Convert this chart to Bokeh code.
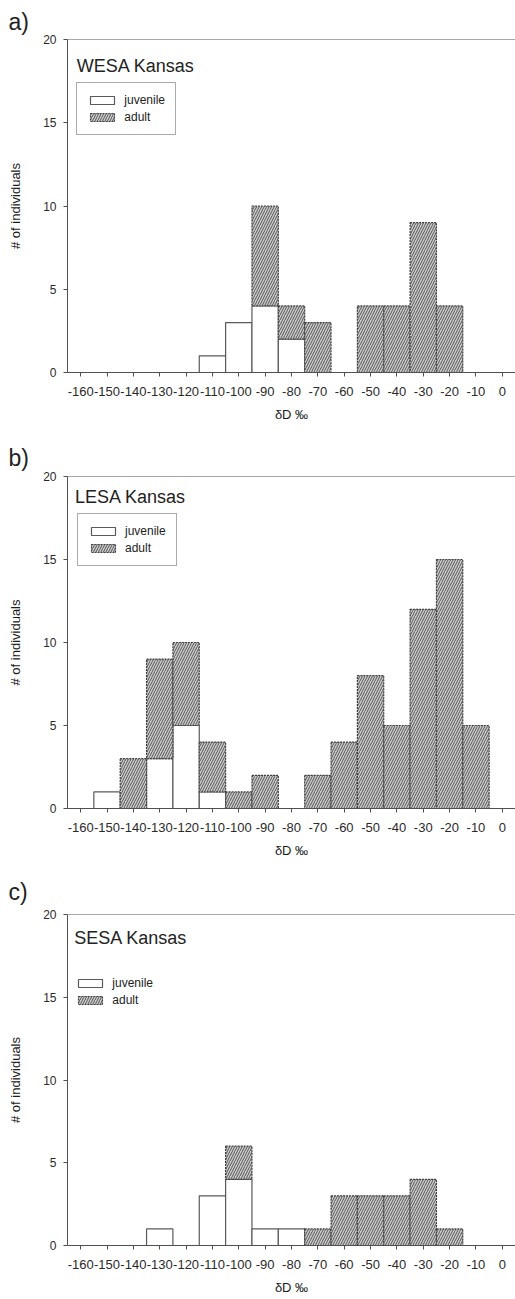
from bokeh.plotting import figure
from bokeh.models import Range1d, FixedTicker, Span, Label, Legend, LegendItem, ColumnDataSource
from bokeh.layouts import column
from bokeh.embed import file_html
from bokeh.resources import INLINE

FONT = "Liberation Sans"

# ---------------- data ----------------
bin_width = 10
x_ticks = list(range(-160, 1, 10))
y_ticks = [0, 5, 10, 15, 20]
series_names = ["juvenile", "adult"]
panel_letters = ["a)", "b)", "c)"]
panel_titles = ["WESA Kansas", "LESA Kansas", "SESA Kansas"]
x_label = "δD ‰"
y_label = "# of individuals"

wesa_bins = [-110, -100, -90, -80, -70, -50, -40, -30, -20]
wesa_juvenile = [1, 3, 4, 2, 0, 0, 0, 0, 0]
wesa_adult = [0, 0, 6, 2, 3, 4, 4, 9, 4]

lesa_bins = [-150, -140, -130, -120, -110, -100, -90, -70, -60, -50, -40, -30, -20, -10]
lesa_juvenile = [1, 0, 3, 5, 1, 0, 0, 0, 0, 0, 0, 0, 0, 0]
lesa_adult = [0, 3, 6, 5, 3, 1, 2, 2, 4, 8, 5, 12, 15, 5]

sesa_bins = [-130, -110, -100, -90, -80, -70, -60, -50, -40, -30, -20]
sesa_juvenile = [1, 3, 4, 1, 1, 0, 0, 0, 0, 0, 0]
sesa_adult = [0, 0, 2, 0, 0, 1, 3, 3, 3, 4, 1]

# ---------------- layout ----------------
X0, X1 = -165, 5
Y0, Y1 = 0, 20
FIG_W = 515
BORDER_L = 67
FRAME_H = 333
FRAME_W = FIG_W - BORDER_L
PX_X = FRAME_W / (X1 - X0)
PX_Y = FRAME_H / (Y1 - Y0)

AXIS_C = "#505050"
TEXT_C = "#2a2a2a"

panels = [
    dict(bins=wesa_bins, juv=wesa_juvenile, adu=wesa_adult, height=436, top=39,
         letter_up=17.5, title_down=26, title_left=9.3, legend_top=44, legend_left=9.3, legend_border=True),
    dict(bins=lesa_bins, juv=lesa_juvenile, adu=lesa_adult, height=430, top=39,
         letter_up=19, title_down=20.5, title_left=7.5, legend_top=39, legend_left=10, legend_border=True),
    dict(bins=sesa_bins, juv=sesa_juvenile, adu=sesa_adult, height=433, top=46,
         letter_up=27, title_down=24, title_left=6.8, legend_top=43, legend_left=8.3, legend_border=False),
]


def px_to_x(dx):
    return X0 + dx / PX_X


def px_to_y_from_top(dy):
    return Y1 - dy / PX_Y


figs = []
for i, cfg in enumerate(panels):
    bottom_border = cfg["height"] - cfg["top"] - FRAME_H
    p = figure(width=FIG_W, height=cfg["height"], output_backend="svg", toolbar_location=None,
               x_range=Range1d(X0, X1), y_range=Range1d(Y0, Y1),
               min_border_left=BORDER_L, min_border_right=0,
               min_border_top=cfg["top"], min_border_bottom=bottom_border)
    p.outline_line_color = None
    p.grid.visible = False
    p.background_fill_color = "white"
    p.border_fill_color = "white"

    # panel letter as title, pushed to the left edge of the figure
    p.title.text = panel_letters[i]
    p.title.align = "left"
    p.title.offset = -BORDER_L + 8
    p.title.standoff = cfg["letter_up"] - 7.5
    p.title.text_font = FONT
    p.title.text_font_size = "23px"
    p.title.text_font_style = "normal"
    p.title.text_color = "#222222"

    bins = cfg["bins"]
    juv = cfg["juv"]
    adu = cfg["adu"]
    jx = [b for b, j in zip(bins, juv) if j > 0]
    jt = [j for j in juv if j > 0]
    ax = [b for b, j, a in zip(bins, juv, adu) if a > 0]
    ab = [j for j, a in zip(juv, adu) if a > 0]
    at = [j + a for j, a in zip(juv, adu) if a > 0]

    src_j = ColumnDataSource(dict(x=jx, top=jt))
    src_a = ColumnDataSource(dict(x=ax, bottom=ab, top=at))

    rj = p.vbar(x="x", top="top", bottom=0, width=bin_width, source=src_j,
                fill_color="white", line_color="#5a5a5a", line_width=1.2)
    ra = p.vbar(x="x", top="top", bottom="bottom", width=bin_width, source=src_a,
                fill_color="#cccccc", line_color="#404040", line_width=1.2, line_dash="2 1",
                hatch_pattern="/", hatch_color="#555555", hatch_scale=5, hatch_weight=1)

    # top frame line
    p.add_layout(Span(location=Y1, dimension="width", line_color=AXIS_C, line_width=1))

    # axes
    for ax_ in (p.xaxis, p.yaxis):
        ax_.axis_line_color = AXIS_C
        ax_.major_tick_line_color = AXIS_C
        ax_.minor_tick_line_color = None
        ax_.major_tick_in = 0
        ax_.major_tick_out = 4
        ax_.major_label_text_font = FONT
        ax_.major_label_text_color = TEXT_C
        ax_.axis_label_text_font = FONT
        ax_.axis_label_text_font_size = "13px"
        ax_.axis_label_text_font_style = "normal"
        ax_.axis_label_text_color = "#1a1a1a"
    p.xaxis.major_label_text_font_size = "13px"
    p.yaxis.major_label_text_font_size = "12px"
    p.xaxis.ticker = FixedTicker(ticks=x_ticks)
    p.yaxis.ticker = FixedTicker(ticks=y_ticks)
    p.xaxis.major_label_overrides = {t: str(t) for t in x_ticks}
    p.yaxis.major_label_overrides = {t: str(t) for t in y_ticks}
    p.xaxis.axis_label = x_label
    p.yaxis.axis_label = y_label
    p.xaxis.major_label_standoff = 10
    p.xaxis.axis_label_standoff = 8
    p.yaxis.major_label_standoff = 7
    p.yaxis.axis_label_standoff = 17

    # panel title
    p.add_layout(Label(x=px_to_x(cfg["title_left"]), y=px_to_y_from_top(cfg["title_down"]),
                       text=panel_titles[i], text_font=FONT, text_font_size="18px",
                       text_color="#222222", text_align="left", text_baseline="middle"))

    legend = Legend(items=[LegendItem(label=series_names[0], renderers=[rj]),
                           LegendItem(label=series_names[1], renderers=[ra])],
                    location=(cfg["legend_left"], FRAME_H - cfg["legend_top"] - 52),
                    glyph_width=30, glyph_height=10, label_height=14, label_width=20,
                    label_text_font=FONT, label_text_font_size="12px", label_text_color="#222222",
                    label_standoff=7, padding=10, spacing=3, margin=0,
                    border_line_color=("#555555" if cfg["legend_border"] else None),
                    border_line_width=1, background_fill_color="white", background_fill_alpha=1.0)
    p.add_layout(legend)
    figs.append(p)

layout = column(*figs, spacing=0)
open("out.html", "w").write(file_html(layout, INLINE))
